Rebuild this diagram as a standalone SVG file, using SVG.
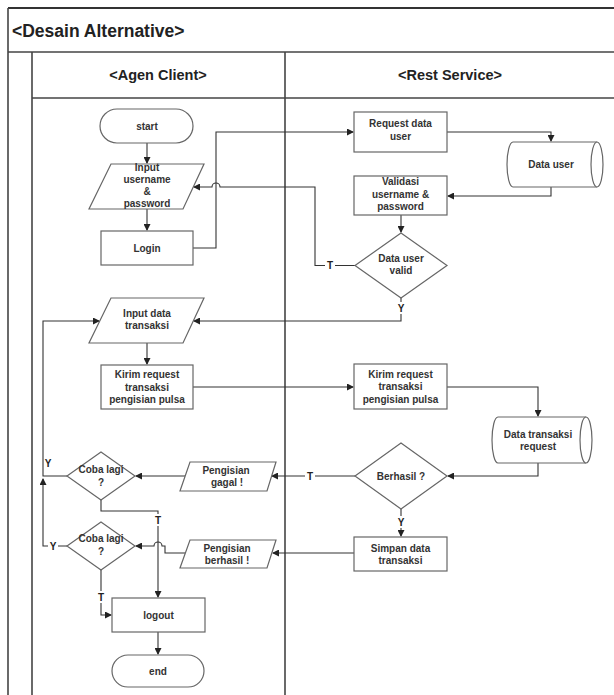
<svg xmlns="http://www.w3.org/2000/svg" width="614" height="695" viewBox="0 0 614 695">
<defs>
<marker id="arr" markerWidth="7" markerHeight="7" refX="6" refY="3.5" orient="auto" markerUnits="userSpaceOnUse">
<path d="M0,0 L7,3.5 L0,7 Z" fill="#222"/>
</marker>
<style>
.frame{stroke:#444;stroke-width:1.6;fill:none}
.shape{fill:#fff;stroke:#666;stroke-width:1.2}
.conn{fill:none;stroke:#333;stroke-width:1.1}
.t{font-family:"Liberation Sans",Arial,sans-serif;font-size:10px;font-weight:bold;fill:#333;text-anchor:middle}
.lbl{font-family:"Liberation Sans",Arial,sans-serif;font-size:10px;font-weight:bold;fill:#222;text-anchor:middle}
.hdr{font-family:"Liberation Sans",Arial,sans-serif;font-size:14.5px;font-weight:bold;fill:#222;text-anchor:middle}
.ttl{font-family:"Liberation Sans",Arial,sans-serif;font-size:17.5px;font-weight:bold;fill:#222}
</style>
</defs>
<rect x="0" y="0" width="614" height="695" fill="#fff"/>
<g id="frame">
<line class="frame" x1="8" y1="8" x2="614" y2="8" style="stroke:#333;stroke-width:2"/>
<line class="frame" x1="8" y1="8" x2="8" y2="695"/>
<line class="frame" x1="8" y1="52" x2="614" y2="52"/>
<line class="frame" x1="32" y1="52" x2="32" y2="695"/>
<line class="frame" x1="32" y1="98" x2="614" y2="98"/>
<line class="frame" x1="285" y1="52" x2="285" y2="695"/>
<text class="ttl" x="12" y="37">&lt;Desain Alternative&gt;</text>
<text class="hdr" x="158" y="80">&lt;Agen Client&gt;</text>
<text class="hdr" x="450" y="80">&lt;Rest Service&gt;</text>
</g>
<g id="connectors">
<path class="conn" d="M147,143 V163" marker-end="url(#arr)"/>
<path class="conn" d="M147,209 V230" marker-end="url(#arr)"/>
<path class="conn" d="M193,248 H216 V132 H353" marker-end="url(#arr)"/>
<path class="conn" d="M447,132 H551 V141" marker-end="url(#arr)"/>
<path class="conn" d="M551,187 V196 H448" marker-end="url(#arr)"/>
<path class="conn" d="M401,215 V232" marker-end="url(#arr)"/>
<path class="conn" d="M355,265.5 H315 V187 H220 A4,4 0 0 0 212,187 H194" marker-end="url(#arr)"/>
<path class="conn" d="M401,298 V321 H194" marker-end="url(#arr)"/>
<path class="conn" d="M147,343 V364" marker-end="url(#arr)"/>
<path class="conn" d="M193,387 H353" marker-end="url(#arr)"/>
<path class="conn" d="M447,387 H538 V416" marker-end="url(#arr)"/>
<path class="conn" d="M538,463 V476 H448" marker-end="url(#arr)"/>
<path class="conn" d="M355,476 H272" marker-end="url(#arr)"/>
<path class="conn" d="M401,509 V536" marker-end="url(#arr)"/>
<path class="conn" d="M354,553 H273" marker-end="url(#arr)"/>
<path class="conn" d="M185,476 H136" marker-end="url(#arr)"/>
<path class="conn" d="M67,476 H43 V321 H99" marker-end="url(#arr)"/>
<path class="conn" d="M67,546 H43 V479" marker-end="url(#arr)"/>
<path class="conn" d="M101,500 V511 H158 V597" marker-end="url(#arr)"/>
<path class="conn" d="M185,553 H165 V546 H162 A4,4 0 0 0 154,546 H136" marker-end="url(#arr)"/>
<path class="conn" d="M101,570 V615 H111" marker-end="url(#arr)"/>
<path class="conn" d="M158,632 V654" marker-end="url(#arr)"/>
<rect x="325" y="259" width="10" height="12" fill="#fff"/>
<text class="lbl" x="330" y="269">T</text>
<rect x="396" y="302" width="10" height="12" fill="#fff"/>
<text class="lbl" x="401" y="312">Y</text>
<rect x="305" y="470" width="10" height="12" fill="#fff"/>
<text class="lbl" x="310" y="480">T</text>
<rect x="396" y="516" width="10" height="12" fill="#fff"/>
<text class="lbl" x="401" y="526">Y</text>
<text class="lbl" x="48" y="467">Y</text>
<rect x="48" y="540" width="10" height="12" fill="#fff"/>
<text class="lbl" x="53" y="550">Y</text>
<rect x="153" y="514" width="10" height="12" fill="#fff"/>
<text class="lbl" x="158" y="524">T</text>
<rect x="96" y="591" width="10" height="12" fill="#fff"/>
<text class="lbl" x="101" y="601">T</text>
</g>
<g id="start">
<rect class="shape" x="100" y="109" width="93" height="34" rx="17"/>
<text class="t" x="147" y="129.5">start</text>
</g>
<g id="input-username">
<polygon class="shape" points="111,164 204,164 183,209 89,209"/>
<text class="t" x="147" y="171">Input</text>
<text class="t" x="147" y="183">username</text>
<text class="t" x="147" y="195">&amp;</text>
<text class="t" x="147" y="207">password</text>
</g>
<g id="login">
<rect class="shape" x="101" y="231" width="92" height="34"/>
<text class="t" x="147" y="251.5">Login</text>
</g>
<g id="request-data-user">
<rect class="shape" x="354" y="112" width="93" height="40"/>
<text class="t" x="400.5" y="127">Request data</text>
<text class="t" x="400.5" y="140">user</text>
</g>
<g id="data-user">
<path class="shape" d="M513,142 H597 A6,22.5 0 0 1 597,187 H513 A6,22.5 0 0 1 513,142 Z"/>
<path class="shape" d="M597,142 A6,22.5 0 0 0 597,187" fill="none"/>
<text class="t" x="551" y="167.5">Data user</text>
</g>
<g id="validasi">
<rect class="shape" x="354" y="176" width="93" height="39"/>
<text class="t" x="400.5" y="185">Validasi</text>
<text class="t" x="400.5" y="197.5">username &amp;</text>
<text class="t" x="400.5" y="210">password</text>
</g>
<g id="data-user-valid">
<polygon class="shape" points="401,233 447,265.5 401,298 355,265.5"/>
<text class="t" x="401" y="261.5">Data user</text>
<text class="t" x="401" y="273.5">valid</text>
</g>
<g id="input-data-transaksi">
<polygon class="shape" points="111,298 204,298 183,343 89,343"/>
<text class="t" x="147" y="316.5">Input data</text>
<text class="t" x="147" y="329">transaksi</text>
</g>
<g id="kirim-client">
<rect class="shape" x="101" y="365" width="92" height="44"/>
<text class="t" x="147" y="378">Kirim request</text>
<text class="t" x="147" y="390.5">transaksi</text>
<text class="t" x="147" y="403">pengisian pulsa</text>
</g>
<g id="kirim-service">
<rect class="shape" x="354" y="364" width="93" height="45"/>
<text class="t" x="400.5" y="377.5">Kirim request</text>
<text class="t" x="400.5" y="390">transaksi</text>
<text class="t" x="400.5" y="402.5">pengisian pulsa</text>
</g>
<g id="data-transaksi-request">
<path class="shape" d="M498,417 H586 A6,23 0 0 1 586,463 H498 A6,23 0 0 1 498,417 Z"/>
<path class="shape" d="M586,417 A6,23 0 0 0 586,463" fill="none"/>
<text class="t" x="538" y="437.5">Data transaksi</text>
<text class="t" x="538" y="449.5">request</text>
</g>
<g id="berhasil">
<polygon class="shape" points="401,443 447,476 401,509 355,476"/>
<text class="t" x="401" y="479.5">Berhasil ?</text>
</g>
<g id="pengisian-gagal">
<polygon class="shape" points="190,462 276,462 267,491 180,491"/>
<text class="t" x="226" y="473.5">Pengisian</text>
<text class="t" x="227" y="486">gagal !</text>
</g>
<g id="coba-lagi-1">
<polygon class="shape" points="101,452 135,476 101,500 67,476"/>
<text class="t" x="101" y="472.5">Coba lagi</text>
<text class="t" x="101" y="485.5">?</text>
</g>
<g id="simpan-data">
<rect class="shape" x="354" y="537" width="93" height="34"/>
<text class="t" x="400.5" y="551.5">Simpan data</text>
<text class="t" x="400.5" y="563.5">transaksi</text>
</g>
<g id="pengisian-berhasil">
<polygon class="shape" points="190,540 276,540 267,568 180,568"/>
<text class="t" x="227" y="551.5">Pengisian</text>
<text class="t" x="227" y="563.5">berhasil !</text>
</g>
<g id="coba-lagi-2">
<polygon class="shape" points="101,522 135,546 101,570 67,546"/>
<text class="t" x="101" y="541.5">Coba lagi</text>
<text class="t" x="101" y="554.5">?</text>
</g>
<g id="logout">
<rect class="shape" x="112" y="598" width="93" height="34"/>
<text class="t" x="158.5" y="618.5">logout</text>
</g>
<g id="end">
<rect class="shape" x="112" y="655" width="92" height="32" rx="16"/>
<text class="t" x="158" y="674.5">end</text>
</g>
</svg>
